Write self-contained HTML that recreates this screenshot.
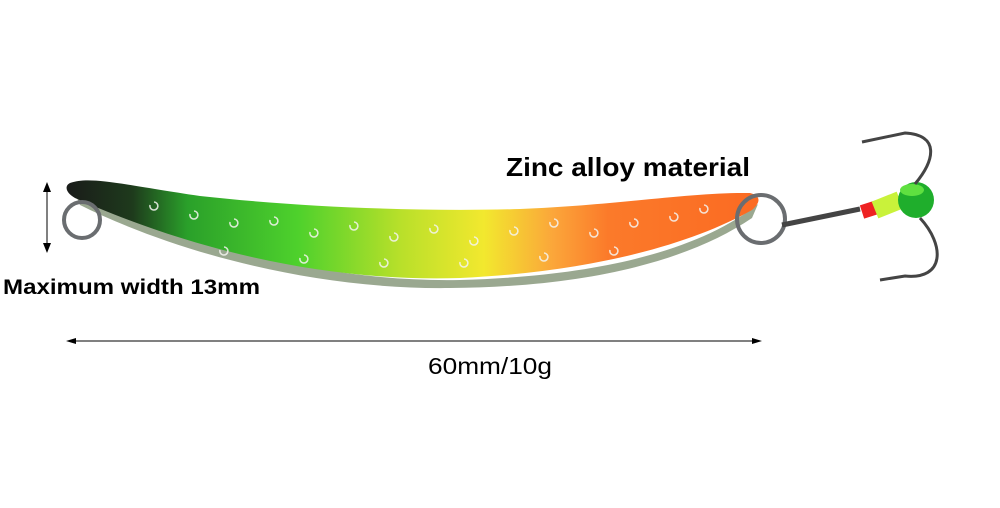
<!DOCTYPE html>
<html><head><style>
html,body{margin:0;padding:0;background:#fff;}
svg{display:block;}
text{font-family:"Liberation Sans",sans-serif;fill:#000;}
</style></head><body>
<svg width="1000" height="508" viewBox="0 0 1000 508">
<defs>
<linearGradient id="g" x1="70" y1="0" x2="760" y2="0" gradientUnits="userSpaceOnUse">
<stop offset="0" stop-color="#1a1d1a"/>
<stop offset="0.09" stop-color="#1e3a1c"/>
<stop offset="0.17" stop-color="#2aa02a"/>
<stop offset="0.33" stop-color="#4ed12c"/>
<stop offset="0.48" stop-color="#b9e02a"/>
<stop offset="0.6" stop-color="#f2e82e"/>
<stop offset="0.7" stop-color="#fba63a"/>
<stop offset="0.78" stop-color="#fb7a2a"/>
<stop offset="1" stop-color="#fb6a22"/>
</linearGradient>
</defs>
<path d="M72,186 C160,230 300,283 460,280 C600,276 700,250 758,204 L752,218 C690,260 590,287 450,288 C300,290 160,245 80,205 Z" fill="#9aa890"/>
<path d="M70,183 C90,176 120,184 200,196 C300,207 420,212 520,209 C620,205 690,192 750,193 C762,196 760,203 752,210 C690,245 590,272 460,278 C300,283 160,236 75,198 C66,193 64,186 70,183 Z" fill="url(#g)"/>
<g fill="none" stroke="#f4f4f0" stroke-width="1.6" opacity="0.85">
<path d="M150,205 a4,4 0 1 0 4,-3"/><path d="M190,214 a4,4 0 1 0 4,-3"/><path d="M230,222 a4,4 0 1 0 4,-3"/>
<path d="M270,220 a4,4 0 1 0 4,-3"/><path d="M310,232 a4,4 0 1 0 4,-3"/><path d="M350,225 a4,4 0 1 0 4,-3"/>
<path d="M390,236 a4,4 0 1 0 4,-3"/><path d="M430,228 a4,4 0 1 0 4,-3"/><path d="M470,240 a4,4 0 1 0 4,-3"/>
<path d="M510,230 a4,4 0 1 0 4,-3"/><path d="M550,222 a4,4 0 1 0 4,-3"/><path d="M590,232 a4,4 0 1 0 4,-3"/>
<path d="M630,222 a4,4 0 1 0 4,-3"/><path d="M670,216 a4,4 0 1 0 4,-3"/><path d="M700,208 a4,4 0 1 0 4,-3"/>
<path d="M220,250 a4,4 0 1 0 4,-3"/><path d="M300,258 a4,4 0 1 0 4,-3"/><path d="M380,262 a4,4 0 1 0 4,-3"/><path d="M460,262 a4,4 0 1 0 4,-3"/><path d="M540,256 a4,4 0 1 0 4,-3"/><path d="M610,250 a4,4 0 1 0 4,-3"/>
</g>
<circle cx="82" cy="220" r="18" fill="none" stroke="#6a6d70" stroke-width="4"/>
<circle cx="761" cy="219" r="24" fill="none" stroke="#6a6d70" stroke-width="4"/>
<path d="M782,225 L860,209" stroke="#444" stroke-width="5"/>
<path d="M862,212 L890,203" stroke="#e22" stroke-width="14"/>
<path d="M875,210 L900,200" stroke="#c9f23a" stroke-width="18"/>
<ellipse cx="916" cy="200" rx="18" ry="18" fill="#1fae2c"/>
<ellipse cx="912" cy="190" rx="12" ry="6" fill="#5fe040"/>
<path d="M915,184 C935,160 940,135 905,133 L862,142" fill="none" stroke="#444" stroke-width="3"/>
<path d="M920,218 C945,245 945,280 905,276 L880,280" fill="none" stroke="#444" stroke-width="3"/>
<line x1="47" y1="186" x2="47" y2="249" stroke="#000" stroke-width="1"/>
<path d="M43,192 L47,182 L51,192 Z M43,243 L47,253 L51,243 Z" fill="#000"/>
<line x1="72" y1="341" x2="756" y2="341" stroke="#000" stroke-width="1"/>
<path d="M76,338 L66,341 L76,344 Z M752,338 L762,341 L752,344 Z" fill="#000"/>
<text x="506" y="176" font-size="26" font-weight="bold" textLength="244" lengthAdjust="spacingAndGlyphs">Zinc alloy material</text>
<text x="3" y="294" font-size="21" font-weight="bold" textLength="257" lengthAdjust="spacingAndGlyphs">Maximum width 13mm</text>
<text x="428" y="374" font-size="23" textLength="124" lengthAdjust="spacingAndGlyphs">60mm/10g</text>
</svg>
</body></html>
